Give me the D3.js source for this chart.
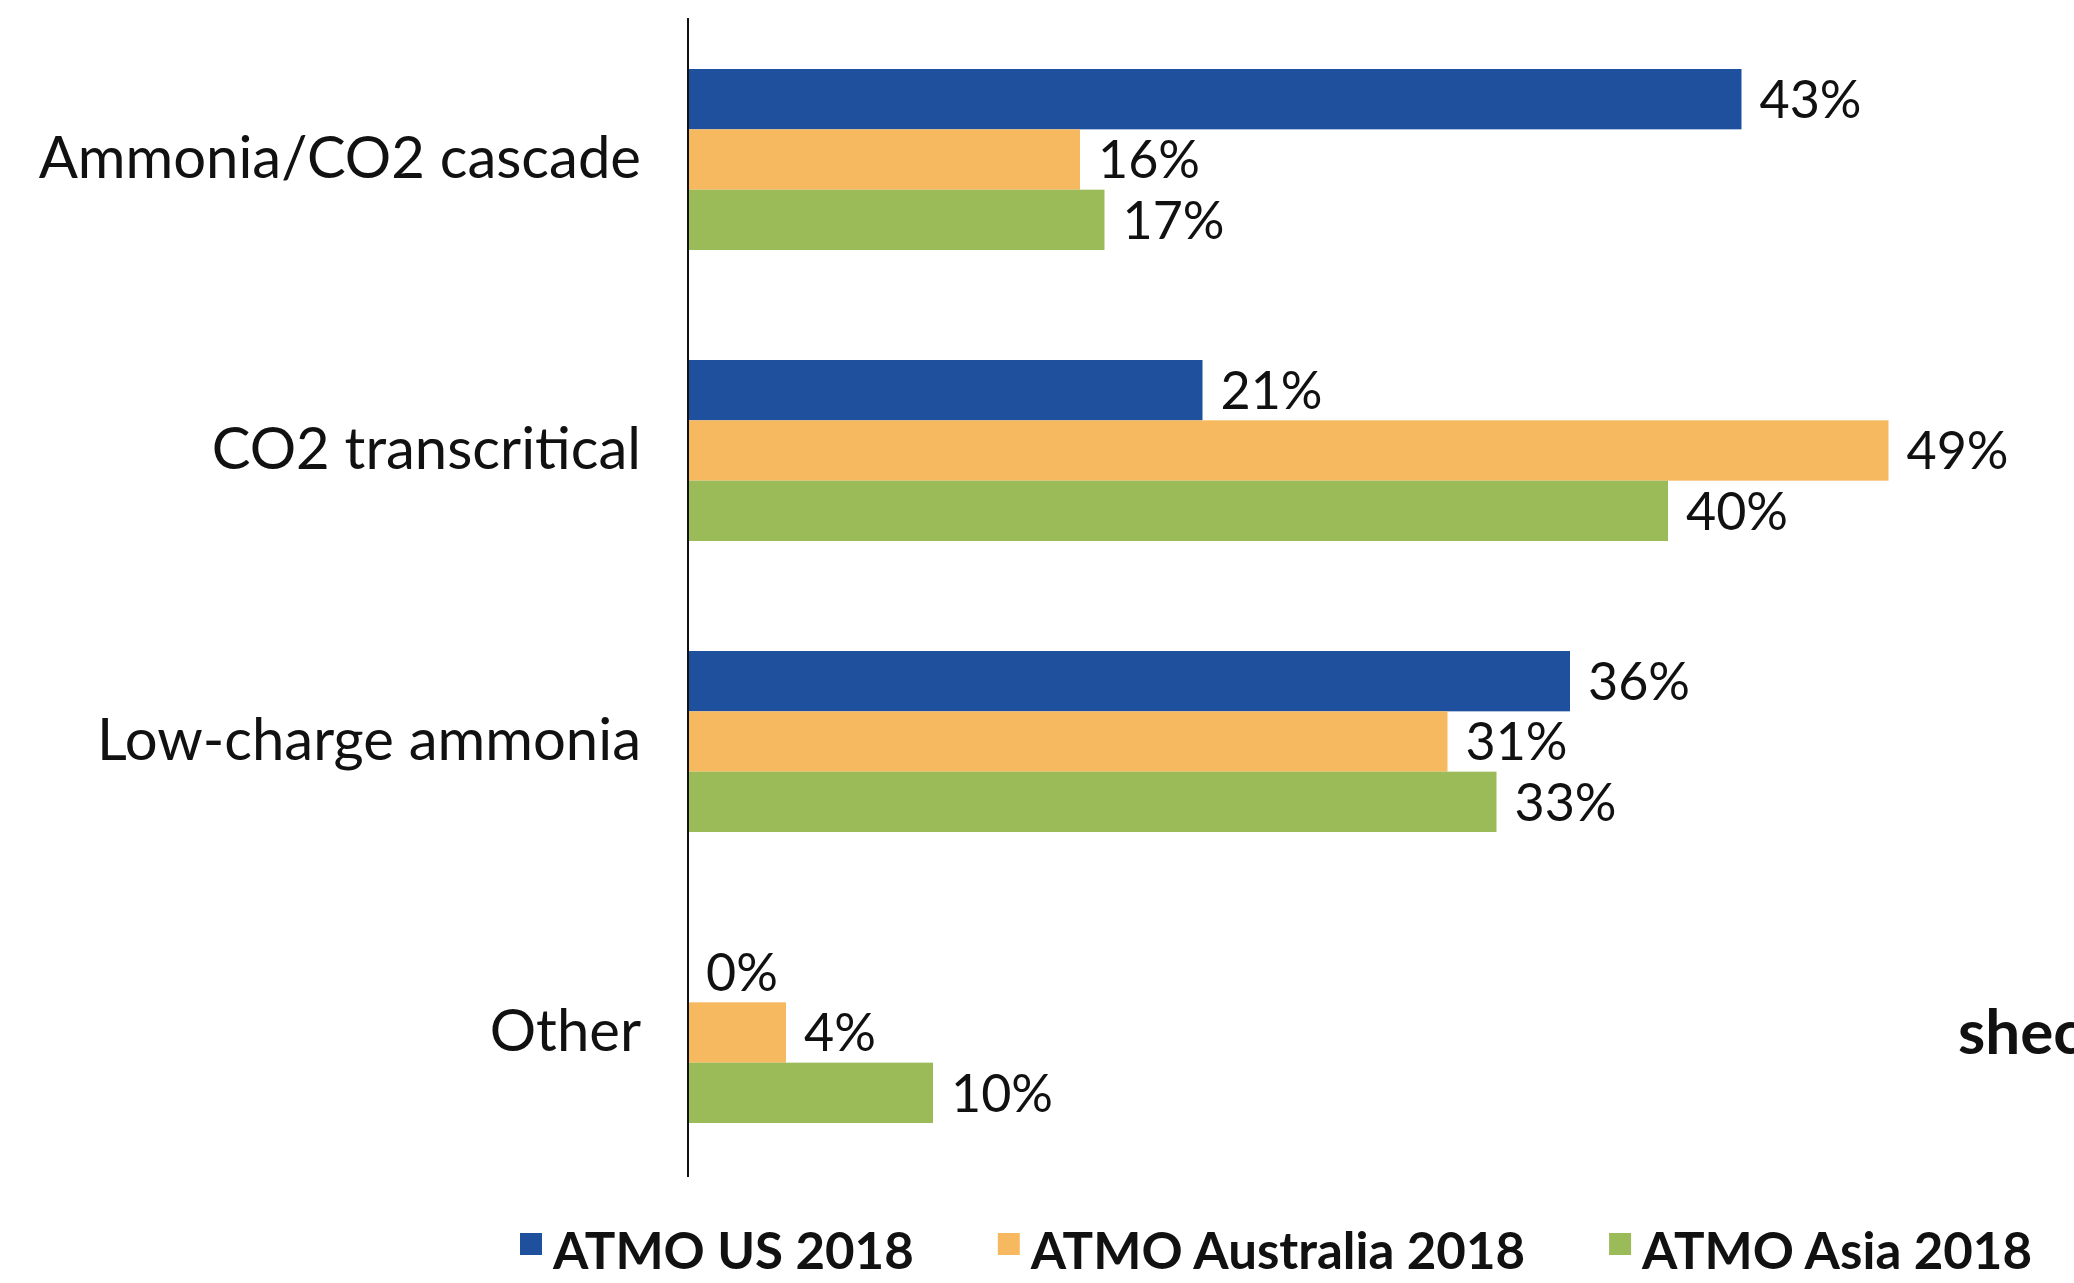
<!DOCTYPE html>
<html>
<head>
<meta charset="utf-8">
<script src="https://cdn.jsdelivr.net/npm/d3@7"></script>
<style>
    body { margin: 0; background: #fff; }
    svg { display: block; }
</style>
</head>
<body>
<div id="chart"></div>
<script>
var categories = ['Ammonia/CO2 cascade', 'CO2 transcritical', 'Low-charge ammonia', 'Other'];
var seriesNames = ['ATMO US 2018', 'ATMO Australia 2018', 'ATMO Asia 2018'];
var seriesColors = ['#1e509d', '#f7b95f', '#9bbb59'];

// percent values, one list per series, same order as categories
var usValues = [43, 21, 36, 0];
var australiaValues = [16, 49, 31, 4];
var asiaValues = [17, 40, 33, 10];

var width = 2074;
var height = 1283;
var axisX = 688;

drawChart();

function drawChart() {
    var series = [usValues, australiaValues, asiaValues];

    var svg = d3.select('#chart').append('svg')
        .attr('width', width)
        .attr('height', height);

    var x = d3.scaleLinear()
        .domain([0, 100])
        .range([axisX, axisX + 2450]);

    var y = d3.scaleBand()
        .domain(categories)
        .range([14, 1178])
        .paddingInner(0.378)
        .paddingOuter(0.189);

    var ySeries = d3.scaleBand()
        .domain(d3.range(series.length))
        .range([0, y.bandwidth()]);

    var groups = svg.selectAll('g.group')
        .data(categories)
        .enter().append('g')
        .attr('class', 'group')
        .attr('transform', function (d) { return 'translate(0,' + y(d) + ')'; });

    groups.each(function (cat, ci) {
        var g = d3.select(this);
        var rows = series.map(function (vals, si) { return { s: si, v: vals[ci] }; });

        g.selectAll('rect')
            .data(rows)
            .enter().append('rect')
            .attr('x', x(0))
            .attr('y', function (d) { return ySeries(d.s); })
            .attr('width', function (d) { return x(d.v) - x(0); })
            .attr('height', ySeries.bandwidth())
            .attr('fill', function (d) { return seriesColors[d.s]; });

        g.selectAll('text.value')
            .data(rows)
            .enter().append('text')
            .attr('class', 'value')
            .attr('x', function (d) { return x(d.v) + 18; })
            .attr('y', function (d) { return ySeries(d.s) + ySeries.bandwidth() / 2; })
            .attr('dy', '0.36em')
            .style('font-family', 'Lato')
            .style('font-size', '52px')
            .style('fill', '#111')
            .text(function (d) { return d.v + '%'; });
    });

    // category axis (labels only, the line is drawn below)
    var yAxis = d3.axisLeft(y).tickSize(0).tickPadding(47);
    var axisG = svg.append('g')
        .attr('transform', 'translate(' + axisX + ',0)')
        .call(yAxis);
    axisG.select('.domain').remove();
    axisG.selectAll('text')
        .style('font-family', 'Lato')
        .style('font-size', '58px')
        .style('fill', '#111');

    svg.append('line')
        .attr('x1', axisX).attr('x2', axisX)
        .attr('y1', 18).attr('y2', 1177)
        .attr('stroke', '#111')
        .attr('stroke-width', 2);

    // watermark, cut at the right edge like in the source
    svg.append('text')
        .attr('x', 1958)
        .attr('y', 1054)
        .style('font-family', 'Lato')
        .style('font-weight', 'bold')
        .style('font-size', '62px')
        .style('fill', '#111')
        .text('shecco');

    // legend
    var legendX = 520;
    seriesNames.forEach(function (name, i) {
        svg.append('rect')
            .attr('x', legendX)
            .attr('y', 1233)
            .attr('width', 22)
            .attr('height', 22)
            .attr('fill', seriesColors[i]);
        var t = svg.append('text')
            .attr('x', legendX + 33)
            .attr('y', 1269)
            .style('font-family', 'Lato')
            .style('font-weight', 'bold')
            .style('font-size', '51px')
            .style('fill', '#111')
            .text(name);
        legendX = legendX + 33 + t.node().getComputedTextLength() + 84;
    });
}
</script>
</body>
</html>
